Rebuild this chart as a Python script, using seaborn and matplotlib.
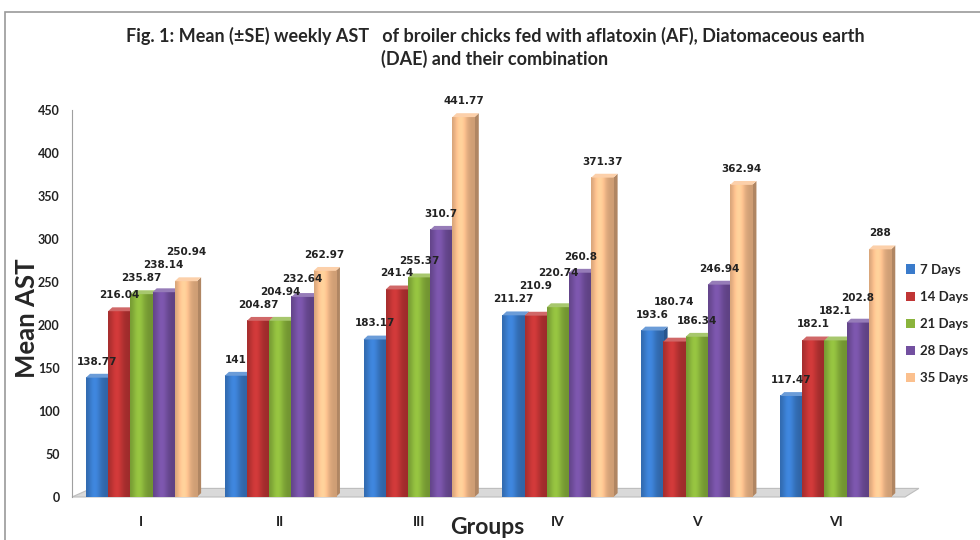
import numpy as np
import pandas as pd
import matplotlib
matplotlib.use("Agg")
import matplotlib.pyplot as plt
import matplotlib.colors as mcolors
from matplotlib.patches import Polygon, Rectangle
import seaborn as sns

groups = ["I", "II", "III", "IV", "V", "VI"]
periods = ["7 Days", "14 Days", "21 Days", "28 Days", "35 Days"]
day7 = [138.77, 141, 183.17, 211.27, 193.6, 117.47]
day14 = [216.04, 204.87, 241.4, 210.9, 180.74, 182.1]
day21 = [235.87, 204.94, 255.37, 220.74, 186.34, 182.1]
day28 = [238.14, 232.64, 310.7, 260.8, 246.94, 202.8]
day35 = [250.94, 262.97, 441.77, 371.37, 362.94, 288]
yticks = [0, 50, 100, 150, 200, 250, 300, 350, 400, 450]
colors = ["#3a7bcb", "#c03535", "#8ab43c", "#7350a0", "#fbc08e"]

series = [day7, day14, day21, day28, day35]
df = pd.DataFrame({
    "Group": groups * len(periods),
    "Period": [p for p in periods for _ in groups],
    "AST": [v for s in series for v in s],
})

sns.set_style("white")
plt.rcParams["font.family"] = ["Lato", "DejaVu Sans"]

fig = plt.figure(figsize=(9.8, 5.4), dpi=100)
ax = fig.add_axes([72 / 980, 43 / 540, 833 / 980, 387 / 540])

sns.barplot(data=df, x="Group", y="AST", hue="Period", order=groups,
            hue_order=periods, palette=colors, width=0.8, saturation=1,
            edgecolor="none", linewidth=0, ax=ax, legend=True)

# horizontal shading profile giving the bars a rounded, lit look
t = np.linspace(0, 1, 64)
shade = 0.82 + 0.28 * np.exp(-((t - 0.38) / 0.28) ** 2)

# pseudo-3D faces: darker right side and lighter top for each bar
dx, dy = 0.03, 4.5
for i, cont in enumerate(ax.containers):
    base = np.array(mcolors.to_rgb(colors[i]))
    side = base * 0.70
    top = base + (1 - base) * 0.25
    grad = np.clip(base[None, :] * shade[:, None], 0, 1)[None, :, :]
    for p in cont.patches:
        z = 3 + i
        p.set_zorder(z)
        x, w, h = p.get_x(), p.get_width(), p.get_height()
        ax.imshow(grad, extent=[x, x + w, 0, h], aspect="auto", zorder=z + 0.1,
                  interpolation="bilinear")
        ax.add_patch(Polygon([(x + w, 0), (x + w + dx, dy), (x + w + dx, h + dy), (x + w, h)],
                             closed=True, facecolor=side, edgecolor="none", zorder=z - 0.5,
                             clip_on=False))
        ax.add_patch(Polygon([(x, h), (x + w, h), (x + w + dx, h + dy), (x + dx, h + dy)],
                             closed=True, facecolor=top, edgecolor="none", zorder=z + 0.2,
                             clip_on=False))

ax.set_xlim(-0.5, 5.5)
ax.set_ylim(0, 450)

# floor slab under the bars
floor = Polygon([(-0.5, 0), (5.5, 0), (5.6, 10), (-0.36, 10)], closed=True,
                facecolor="#d9d9d9", edgecolor="#bdbdbd", linewidth=0.8, zorder=1,
                clip_on=False)
ax.add_patch(floor)

# value labels above each bar, nudged upward where they would collide
renderer = fig.canvas.get_renderer()
for g in range(len(groups)):
    placed = []
    for i, cont in enumerate(ax.containers):
        p = cont.patches[g]
        h = p.get_height()
        xc = p.get_x() + p.get_width() / 2
        off = 16
        ann = ax.annotate(f"{h:g}", xy=(xc, h), xytext=(0, off), textcoords="offset pixels",
                          ha="center", va="center", fontsize=7.5, fontweight="bold",
                          family="DejaVu Sans", color="#222222", zorder=20,
                          annotation_clip=False)
        for _ in range(10):
            bb = ann.get_window_extent(renderer)
            hit = [q for q in placed if bb.x0 < q.x1 and bb.x1 > q.x0
                   and bb.y0 < q.y1 + 2 and bb.y1 > q.y0 - 2]
            if not hit:
                break
            off += max(q.y1 for q in hit) + 3 - bb.y0
            ann.xyann = (0, off)
        placed.append(ann.get_window_extent(renderer))

ax.set_yticks(yticks)
ax.tick_params(axis="y", direction="out", length=5, width=0.8, color="#a0a0a0",
               labelsize=9, pad=4)
ax.tick_params(axis="x", length=0, labelsize=10, pad=14)
for lab in ax.get_yticklabels() + ax.get_xticklabels():
    lab.set_fontweight("bold")
    lab.set_color("#222222")

for s in ["top", "right", "bottom"]:
    ax.spines[s].set_visible(False)
ax.spines["left"].set_color("#a0a0a0")
ax.spines["left"].set_linewidth(0.8)

ax.set_ylabel("Mean AST", fontsize=18.5, fontweight="bold", va="center")
ax.yaxis.set_label_coords((27 - 72) / 833, (540 - 318 - 43) / 387)
ax.set_xlabel("Groups", fontsize=16.5, fontweight="bold", va="center")
ax.xaxis.set_label_coords((487 - 72) / 833, (540 - 527 - 43) / 387)

handles, labels = ax.get_legend_handles_labels()
ax.legend(handles, labels, loc="center left", bbox_to_anchor=(903 / 980, 0.4),
          bbox_transform=fig.transFigure, frameon=False, borderaxespad=0,
          borderpad=0.2, prop={"weight": "bold", "size": 9.5}, handlelength=0.7,
          handleheight=0.7, handletextpad=0.4, labelspacing=1.15)

fig.text(0.505, 1 - 36 / 540,
         "Fig. 1: Mean (\u00b1SE) weekly AST   of broiler chicks fed with aflatoxin (AF), Diatomaceous earth",
         ha="center", va="center", fontsize=13, fontweight="bold")
fig.text(0.505, 1 - 59 / 540, "(DAE) and their combination",
         ha="center", va="center", fontsize=13, fontweight="bold")

# outer frame lines
fig.add_artist(Rectangle((5 / 980, -0.01), 1.0, 1 - 12 / 540 + 0.01, transform=fig.transFigure,
                         facecolor="none", edgecolor="#9a9a9a", linewidth=1.2))

fig.savefig("out.png", dpi=100)
